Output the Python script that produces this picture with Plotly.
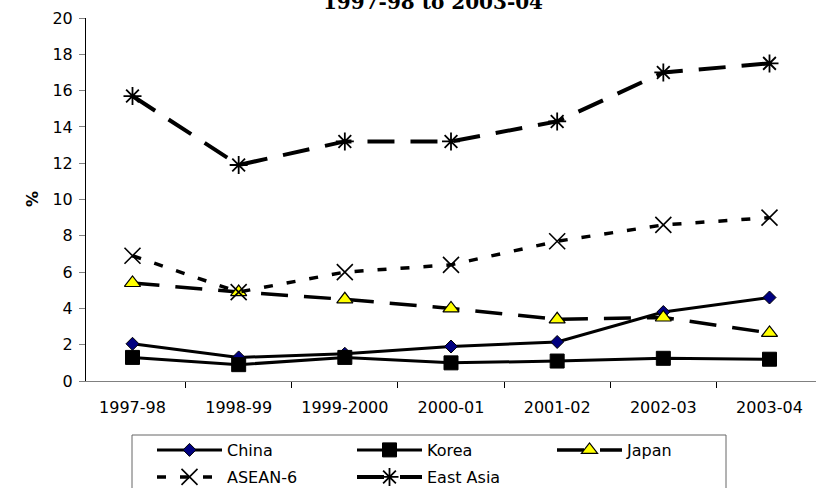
import plotly.graph_objects as go

categories = ["1997-98", "1998-99", "1999-2000", "2000-01", "2001-02", "2002-03", "2003-04"]
china = [2.05, 1.3, 1.5, 1.9, 2.15, 3.8, 4.6]
korea = [1.3, 0.9, 1.3, 1.0, 1.1, 1.25, 1.2]
japan = [5.4, 4.9, 4.5, 4.0, 3.4, 3.5, 2.65]
asean6 = [6.9, 4.9, 6.0, 6.4, 7.7, 8.6, 9.0]
east_asia = [15.7, 11.9, 13.2, 13.2, 14.3, 17.0, 17.5]
y_ticks = [0, 2, 4, 6, 8, 10, 12, 14, 16, 18, 20]

W, H = 818, 488
L, R, T, B = 86, 2, 18, 107
PW, PH = W - L - R, H - T - B

def px_x(px):
    return (px - L) / PW

def px_y(py):
    return (H - B - py) / PH

FONT = "DejaVu Sans"

fig = go.Figure()
fig.add_trace(go.Scatter(
    x=categories, y=china, name="China", mode="lines+markers", legend="legend",
    line=dict(color="black", width=3),
    marker=dict(symbol="diamond", size=10, color="#000080", line=dict(color="black", width=1))))
fig.add_trace(go.Scatter(
    x=categories, y=korea, name="Korea", mode="lines+markers", legend="legend",
    line=dict(color="black", width=3),
    marker=dict(symbol="square", size=14, color="black", line=dict(color="black", width=1))))
fig.add_trace(go.Scatter(
    x=categories, y=japan, name="Japan", mode="lines+markers", legend="legend",
    line=dict(color="black", width=3.5, dash="27px,16px"),
    marker=dict(symbol="triangle-up", size=14, color="#FFFF00", line=dict(color="black", width=1.2))))
fig.add_trace(go.Scatter(
    x=categories, y=asean6, name="ASEAN-6", mode="lines+markers", legend="legend2",
    line=dict(color="black", width=3.5, dash="9px,14px"),
    marker=dict(symbol="x-thin-open", size=16, color="black", line=dict(color="black", width=1.6))))
fig.add_trace(go.Scatter(
    x=categories, y=east_asia, name="East Asia", mode="lines+markers", legend="legend2",
    line=dict(color="black", width=4, dash="27px,16px"),
    marker=dict(symbol="asterisk-open", size=15, color="black", line=dict(color="black", width=1.8))))

legend_common = dict(orientation="h", xanchor="left", yanchor="middle",
                     entrywidth=120, entrywidthmode="pixels", itemwidth=65,
                     font=dict(family=FONT, size=16, color="black"),
                     bgcolor="rgba(0,0,0,0)", borderwidth=0, traceorder="normal")

fig.update_layout(
    width=W, height=H,
    margin=dict(l=L, r=R, t=T, b=B, autoexpand=False),
    paper_bgcolor="white", plot_bgcolor="white",
    font=dict(family=FONT, size=16, color="black"),
    title=dict(text="<b>1997-98 to 2003-04</b>", x=433 / W, xanchor="center",
               xref="container", yref="container", y=1 - 1.5 / H, yanchor="middle",
               font=dict(family="DejaVu Serif", size=20, color="black")),
    showlegend=True,
    legend=dict(x=px_x(152), y=px_y(450), **legend_common),
    legend2=dict(x=px_x(152), y=px_y(477), **legend_common),
    xaxis=dict(type="category", showgrid=False, zeroline=False,
               showline=True, linecolor="#808080", linewidth=1,
               ticks="outside", tickson="boundaries", ticklen=6, tickcolor="black",
               ticklabelstandoff=12,
               tickfont=dict(family=FONT, size=16), mirror=False),
    yaxis=dict(range=[0, 20], tickvals=y_ticks, showgrid=False, zeroline=False,
               showline=True, linecolor="black", linewidth=1,
               ticks="outside", ticklen=6, tickcolor="#808080",
               ticklabelstandoff=3,
               tickfont=dict(family=FONT, size=16)),
    shapes=[dict(type="rect", xref="paper", yref="paper",
                 x0=px_x(132), x1=px_x(726), y0=px_y(435), y1=px_y(500),
                 line=dict(color="#666666", width=1), fillcolor="rgba(0,0,0,0)", layer="below")],
    annotations=[dict(text="<b>%</b>", xref="paper", yref="paper",
                      x=px_x(32), y=px_y(199), xanchor="center", yanchor="middle",
                      textangle=-90, showarrow=False,
                      font=dict(family=FONT, size=16, color="black"))],
)

fig.write_html("out.html")
